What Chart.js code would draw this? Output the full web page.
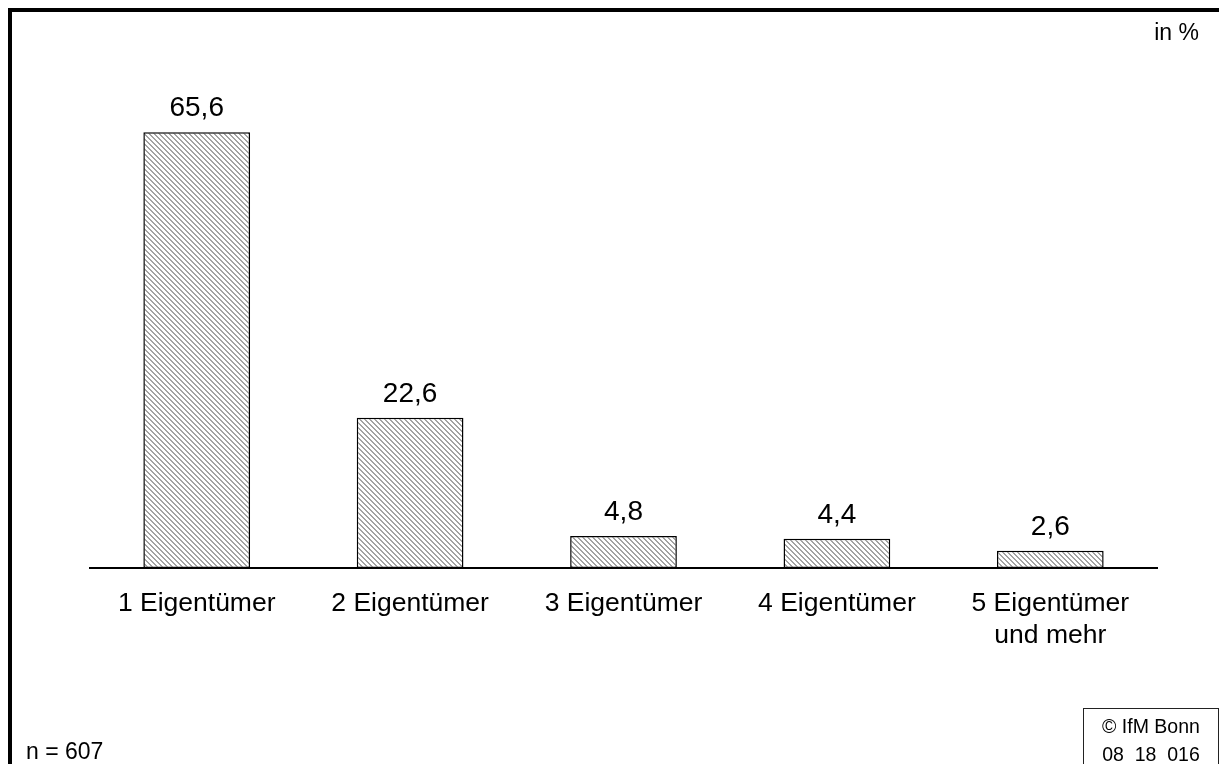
<!DOCTYPE html>
<html lang="de">
<head>
<meta charset="utf-8">
<title>Eigentümer</title>
<script src="https://cdn.jsdelivr.net/npm/chart.js@4/dist/chart.umd.min.js"></script>
<style>
  html, body { margin: 0; padding: 0; background: #fff; overflow: hidden; }
  body { width: 1219px; height: 764px; position: relative; font-family: "Liberation Sans", Arial, sans-serif; color: #000; }
  #chart { position: absolute; left: 0; top: 0; }
  .frame { position: absolute; left: 8px; top: 8px; width: 1300px; height: 900px; border: 4px solid #000; }
  .unit { position: absolute; right: 20px; top: 19px; font-size: 23px; }
  .count { position: absolute; left: 26px; top: 738px; font-size: 23px; }
  .source { position: absolute; left: 1083px; top: 708px; width: 136px; height: 80px; border: 1.5px solid #222;
            font-size: 19.5px; line-height: 28px; text-align: center; white-space: pre; padding-top: 3px; box-sizing: border-box; }
</style>
</head>
<body>
<div class="frame"></div>
<canvas id="chart" width="1219" height="764"></canvas>
<div class="unit">in %</div>
<div class="count">n = 607</div>
<div class="source">© IfM Bonn
08  18  016</div>
<script>
// chart data
const categories = ["1 Eigentümer", "2 Eigentümer", "3 Eigentümer", "4 Eigentümer", ["5 Eigentümer", "und mehr"]];
const shares = [65.6, 22.6, 4.8, 4.4, 2.6];
const yMax = 70;

// diagonal hatch fill like the original bars
function makeHatch() {
  const tile = document.createElement("canvas");
  tile.width = tile.height = 5;
  const g = tile.getContext("2d");
  g.fillStyle = "#fff";
  g.fillRect(0, 0, 5, 5);
  g.fillStyle = "#a3a3a3";
  for (let i = 0; i < 5; i++) {
    g.fillRect(i, i, 1, 1);
    g.fillRect((i + 1) % 5, i, 1, 1);
  }
  return g.createPattern(tile, "repeat");
}

// value labels above bars, german decimal comma
const valueLabels = {
  id: "valueLabels",
  afterDatasetsDraw: function (chart) {
    const ctx = chart.ctx;
    const meta = chart.getDatasetMeta(0);
    ctx.save();
    ctx.font = '28px "Liberation Sans", Arial, sans-serif';
    ctx.fillStyle = "#000";
    ctx.textAlign = "center";
    ctx.textBaseline = "alphabetic";
    meta.data.forEach(function (bar, i) {
      ctx.fillText(shares[i].toFixed(1).replace(".", ","), bar.x, bar.y - 16);
    });
    ctx.restore();
  },
};

new Chart(document.getElementById("chart"), {
  type: "bar",
  data: {
    labels: categories,
    datasets: [
      {
        data: shares,
        backgroundColor: makeHatch(),
        borderColor: "#000",
        borderWidth: 1.5,
        borderSkipped: false,
        barPercentage: 0.5,
        categoryPercentage: 1.0,
      },
    ],
  },
  options: {
    responsive: false,
    animation: false,
    layout: { padding: { left: 90, right: 62, top: 103, bottom: 0 } },
    plugins: {
      legend: { display: false },
      tooltip: { enabled: false },
    },
    scales: {
      y: { display: false, min: 0, max: yMax },
      x: {
        grid: { display: false, drawTicks: false },
        border: { display: true, color: "#000", width: 2 },
        ticks: {
          color: "#000",
          font: { family: '"Liberation Sans", Arial, sans-serif', size: 26.5, lineHeight: 1.2 },
          padding: 20,
          maxRotation: 0,
          autoSkip: false,
        },
        afterFit: function (scale) {
          scale.height = 196;
        },
      },
    },
  },
  plugins: [valueLabels],
});
</script>
</body>
</html>
